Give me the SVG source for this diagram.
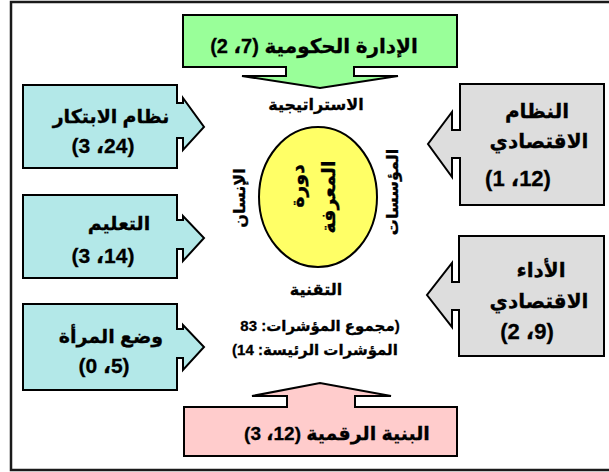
<svg xmlns="http://www.w3.org/2000/svg" width="609" height="472" viewBox="0 0 609 472">
  <defs>
    <style>
      .frame { fill: #ffffff; stroke: #1a1a1a; stroke-width: 2.5; }
      .shape { stroke: #000000; stroke-width: 2; stroke-linejoin: miter; }
      .green { fill: #99ff99; }
      .cyan { fill: #b3e8e8; }
      .gray { fill: #dddddd; }
      .pink { fill: #ffcccc; }
      .core { fill: #ffff66; stroke: #000000; stroke-width: 2; }
      text { font-family: "Liberation Sans", "DejaVu Sans", sans-serif; font-weight: bold; fill: #000000; stroke: #000000; stroke-width: 0.3; direction: rtl; unicode-bidi: embed; }
      .big { font-size: 19px; text-anchor: middle; }
      .num { font-size: 21px; text-anchor: middle; }
      .num-l { font-size: 22px; text-anchor: middle; }
      .box { font-size: 20px; text-anchor: middle; }
      .mid { font-size: 16px; text-anchor: middle; }
      .note { font-size: 15px; text-anchor: middle; }
      .core-t { font-size: 19px; text-anchor: middle; }
    </style>
  </defs>

  <rect class="frame" x="11" y="2" width="610" height="468"/>

  <!-- central knowledge cycle -->
  <g id="knowledge-cycle">
    <ellipse class="core" cx="318" cy="197" rx="59" ry="70"/>
    <text class="core-t" transform="translate(304,186) rotate(-90)">دورة</text>
    <text class="core-t" transform="translate(335,197) rotate(-90)">المعرفة</text>
  </g>

  <!-- labels around the cycle -->
  <g id="cycle-labels">
    <text class="mid" x="316" y="110">الاستراتيجية</text>
    <text class="mid" x="316" y="295">التقنية</text>
    <text class="mid" transform="translate(245,198) rotate(-90)">الإنسان</text>
    <text class="mid" transform="translate(398,192) rotate(-90)">المؤسسات</text>
  </g>

  <g id="indicator-totals">
    <text class="note" x="320" y="331">(مجموع المؤشرات: 83</text>
    <text class="note" x="315" y="355">المؤشرات الرئيسة: 14)</text>
  </g>

  <!-- pillars pointing at the cycle -->
  <g id="governance">
    <path class="shape green" d="M183,15 H457 V67 H354 V76 H398 L320,88 L242,76 H286 V67 H183 Z"/>
    <text class="box" x="314" y="53">الإدارة الحكومية (7، 2)</text>
  </g>

  <g id="innovation">
    <path class="shape cyan" d="M23,85 H177 V103 H183 V98 L204,127 L183,150 V138 H177 V168 H23 Z"/>
    <text class="big" x="111" y="123">نظام الابتكار</text>
    <text class="num" x="103" y="153">(24، 3)</text>
  </g>

  <g id="education">
    <path class="shape cyan" d="M23,195 H177 V220 H183 V216 L204,238 L183,261 V249 H177 V278 H23 Z"/>
    <text class="big" x="119" y="230">التعليم</text>
    <text class="num" x="103" y="263">(14، 3)</text>
  </g>

  <g id="women-status">
    <path class="shape cyan" d="M23,304 H177 V329 H183 V325 L204,347 L183,370 V358 H177 V390 H23 Z"/>
    <text class="big" x="111" y="343">وضع المرأة</text>
    <text class="num" x="104" y="373">(5، 0)</text>
  </g>

  <g id="economic-system">
    <path class="shape gray" d="M460,84 H604 V205 H460 V158 H452 V177 L428,144 L452,112 V130 H460 Z"/>
    <text class="box" x="537" y="118">النظام</text>
    <text class="box" x="539" y="148">الاقتصادي</text>
    <text class="num-l" x="518" y="186">(12، 1)</text>
  </g>

  <g id="economic-performance">
    <path class="shape gray" d="M459,236 H604 V356 H459 V310 H452 V327 L427,295 L452,263 V282 H459 Z"/>
    <text class="box" x="541" y="277">الأداء</text>
    <text class="box" x="539" y="308">الاقتصادي</text>
    <text class="num-l" x="527" y="339">(9، 2)</text>
  </g>

  <g id="digital-infrastructure">
    <path class="shape pink" d="M184,456 V407 H287 V396 H252 L320,383 L391,396 H355 V407 H457 V456 Z"/>
    <text class="big" x="337" y="440">البنية الرقمية (12، 3)</text>
  </g>
</svg>
